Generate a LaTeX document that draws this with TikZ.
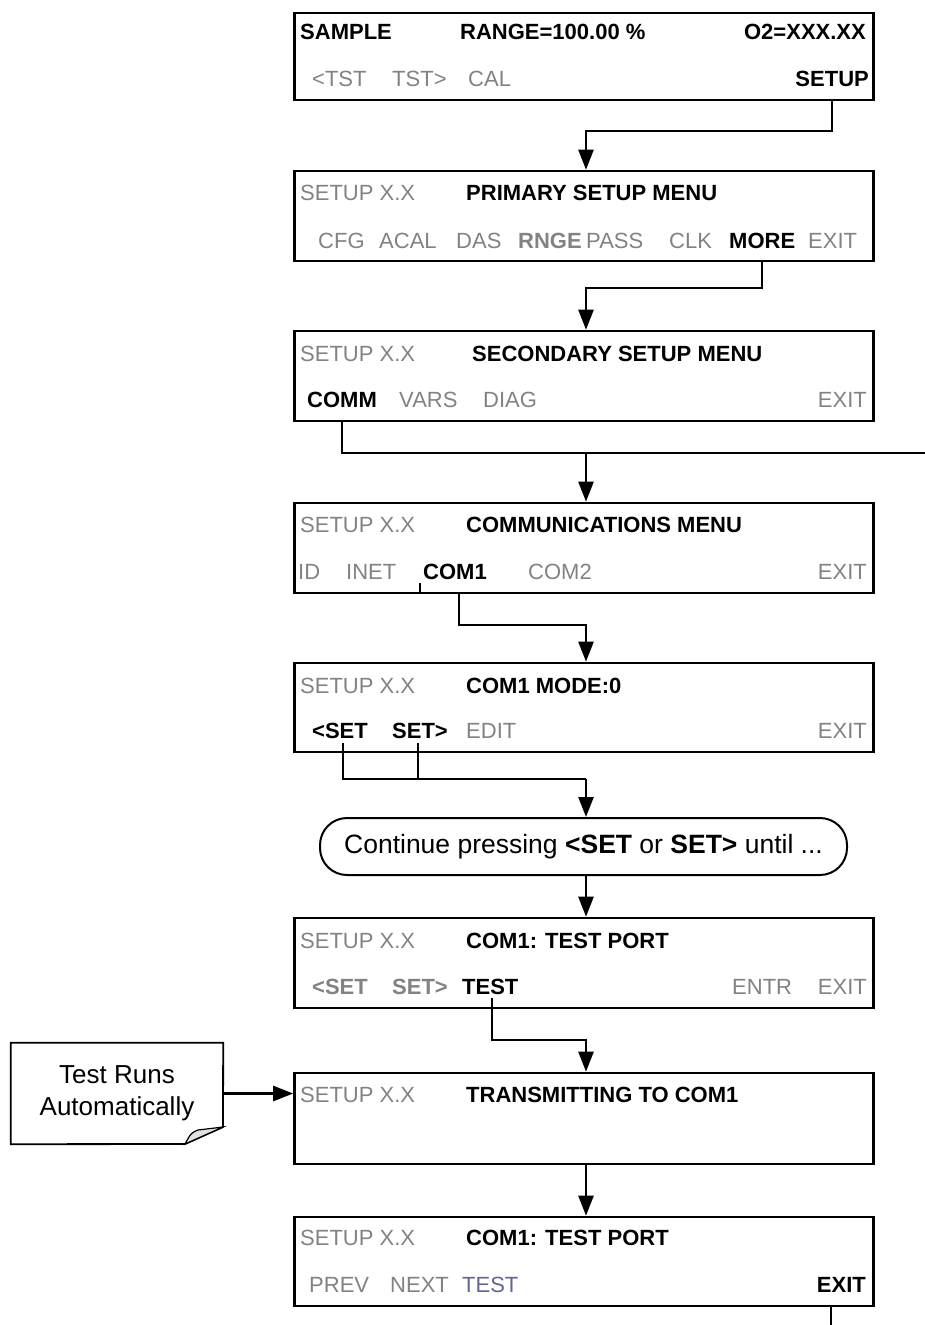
\documentclass[tikz,border=0pt]{standalone}
\usepackage{fontspec}
\setmainfont{Liberation Sans}
\usetikzlibrary{arrows.meta,calc}
\definecolor{gtxt}{RGB}{130,130,130}
\definecolor{btxt}{RGB}{100,100,150}
\definecolor{foldc}{RGB}{225,225,225}
\begin{document}
\begin{tikzpicture}[x=1pt,y=1pt,
  scr/.style={draw,line width=2.6pt,minimum width=579,inner sep=0},
  tw/.style={inner sep=0,anchor=base west,font=\fontsize{22}{26}\selectfont},
  te/.style={inner sep=0,anchor=base east,font=\fontsize{22}{26}\selectfont},
  bk/.style={font=\fontsize{22}{26}\selectfont\bfseries},
  gy/.style={text=gtxt},
  ln/.style={line width=2.4pt},
  arr/.style={line width=2.4pt,-{Triangle[length=20pt,width=15pt]}}]
\useasboundingbox (0,0) rectangle (925,-1325);

% ---------- box 1
\node[scr,minimum height=87] (b1) at (584,-56.5) {};
\node[tw,bk] (b1a) at (300,-39) {SAMPLE};
\node[tw,bk] (b1b) at (460,-39) {RANGE=100.00 \%};
\node[te,bk] (b1c) at (866,-39) {O2=XXX.XX};
\node[tw,gy] (b1d) at (312,-86) {<TST};
\node[tw,gy] (b1e) at (392,-86) {TST>};
\node[tw,gy] (b1f) at (468,-86) {CAL};
\node[te,bk] (b1setup) at (869,-86) {SETUP};

% ---------- box 2
\node[scr,minimum height=90] (b2) at (584,-216) {};
\node[tw,gy] (b2a) at (300,-200) {SETUP X.X};
\node[tw,bk] (b2b) at (466,-200) {PRIMARY SETUP MENU};
\node[tw,gy] (b2c) at (318,-248) {CFG};
\node[tw,gy] (b2d) at (379,-248) {ACAL};
\node[tw,gy] (b2e) at (456,-248) {DAS};
\node[tw,bk,gy] (b2f) at (518,-248) {RNGE};
\node[tw,gy] (b2g) at (586,-248) {PASS};
\node[tw,gy] (b2h) at (669,-248) {CLK};
\node[tw,bk] (b2more) at (729,-248) {MORE};
\node[tw,gy] (b2i) at (808,-248) {EXIT};

% ---------- box 3
\node[scr,minimum height=90] (b3) at (584,-376) {};
\node[tw,gy] (b3a) at (300,-361) {SETUP X.X};
\node[tw,bk] (b3b) at (472,-361) {SECONDARY SETUP MENU};
\node[tw,bk] (b3comm) at (307,-407) {COMM};
\node[tw,gy] (b3c) at (399,-407) {VARS};
\node[tw,gy] (b3d) at (483,-407) {DIAG};
\node[te,gy] (b3e) at (867,-407) {EXIT};

% ---------- box 4
\node[scr,minimum height=90] (b4) at (584,-548) {};
\node[tw,gy] (b4a) at (300,-532) {SETUP X.X};
\node[tw,bk] (b4b) at (466,-532) {COMMUNICATIONS MENU};
\node[tw,gy] (b4c) at (298,-579) {ID};
\node[tw,gy] (b4d) at (346,-579) {INET};
\node[tw,bk] (b4com1) at (423,-579) {COM1};
\node[tw,gy] (b4e) at (528,-579) {COM2};
\node[te,gy] (b4f) at (867,-579) {EXIT};

% ---------- box 5
\node[scr,minimum height=89] (b5) at (584,-707.5) {};
\node[tw,gy] (b5a) at (300,-693) {SETUP X.X};
\node[tw,bk] (b5b) at (466,-693) {COM1 MODE:0};
\node[tw,bk] (b5set1) at (312,-738) {<SET};
\node[tw,bk] (b5set2) at (392,-738) {SET>};
\node[tw,gy] (b5c) at (466,-738) {EDIT};
\node[te,gy] (b5d) at (867,-738) {EXIT};

% ---------- rounded box
\node[draw,line width=2pt,rounded corners=27pt,minimum width=527,minimum height=57,inner sep=0,
      font=\fontsize{26.5}{30}\selectfont] (cont) at (583.5,-846.5)
      {Continue pressing \textbf{<SET} or \textbf{SET>} until ...};

% ---------- box 6
\node[scr,minimum height=90] (b6) at (584,-963) {};
\node[tw,gy] (b6a) at (300,-948) {SETUP X.X};
\node[tw,bk] (b6b) at (466,-948) {COM1: TEST PORT};
\node[tw,bk,gy] (b6c) at (312,-994) {<SET};
\node[tw,bk,gy] (b6d) at (392,-994) {SET>};
\node[tw,bk] (b6test) at (462,-994) {TEST};
\node[tw,gy] (b6e) at (732,-994) {ENTR};
\node[te,gy] (b6f) at (867,-994) {EXIT};

% ---------- box 7
\node[scr,minimum height=91] (b7) at (584,-1118.5) {};
\node[tw,gy] (b7a) at (300,-1102) {SETUP X.X};
\node[tw,bk] (b7b) at (466,-1102) {TRANSMITTING TO COM1};

% ---------- box 8
\node[scr,minimum height=89] (b8) at (584,-1261.5) {};
\node[tw,gy] (b8a) at (300,-1245) {SETUP X.X};
\node[tw,bk] (b8b) at (466,-1245) {COM1: TEST PORT};
\node[tw,gy] (b8c) at (309,-1292) {PREV};
\node[tw,gy] (b8d) at (390,-1292) {NEXT};
\node[tw,text=btxt] (b8e) at (462,-1292) {TEST};
\node[te,bk] (b8exit) at (866,-1292) {EXIT};

% ---------- note
\node[inner sep=0,minimum width=212,minimum height=101,align=center,
      font=\fontsize{26}{32}\selectfont] (note) at (117,-1093.5) {Test Runs\\Automatically};
\draw[line width=1.8pt] (note.north west) -- (note.north east) -- (223,-1127) -- (185,-1144) -- (note.south west) -- cycle;
\draw[line width=1.2pt,fill=foldc] (223,-1127) -- (198,-1130) .. controls (191,-1133) .. (185,-1144) -- cycle;

% ---------- connectors
\coordinate (j1) at (586,-131);
\coordinate (j2) at (586,-288);
\coordinate (j3) at (586,-453);
\coordinate (rEnd) at (925,-453);
\coordinate (j4) at (586,-625);
\coordinate (j5) at (586,-779);
\coordinate (j6) at (586,-1040);
\coordinate (c1a) at (420,-583);
\coordinate (c1b) at (459,-593);
\coordinate (s1) at (343,-743);
\coordinate (s2) at (418,-743);
\coordinate (t6) at (492,-998);
\coordinate (bot) at (831,-1325);

\draw[arr] (b1setup |- b1.south) |- (j1) -- (j1 |- b2.north);
\draw[arr] (b2more |- b2.south) |- (j2) -- (j2 |- b3.north);
\draw[ln] (b3comm |- b3.south) |- (rEnd);
\draw[arr] (j3) -- (j3 |- b4.north);
\draw[ln] (c1a) -- (c1a |- b4.south);
\draw[arr] (c1b) |- (j4) -- (j4 |- b5.north);
\draw[ln] (s1) |- (j5);
\draw[ln] (s2) -- (s2 |- j5);
\draw[arr] (j5) -- (j5 |- cont.north);
\draw[arr] (cont.south -| j5) -- (j5 |- b6.north);
\draw[arr] (t6) |- (j6) -- (j6 |- b7.north);
\draw[arr] (b7.south -| j6) -- (j6 |- b8.north);
\draw[ln] (bot |- b8.south) -- (bot);
\draw[arr] (note.east) -- (note.east -| b7.west);
\end{tikzpicture}
\end{document}
